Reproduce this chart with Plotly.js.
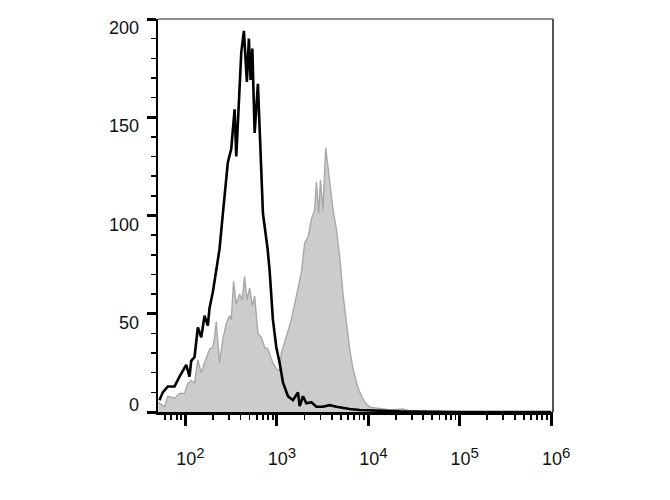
<!DOCTYPE html>
<html>
<head>
<meta charset="utf-8">
<script src="https://cdn.plot.ly/plotly-3.0.1.min.js"></script>
<style>html,body{margin:0;padding:0;background:#fff;}#chart{width:670px;height:500px;}</style>
</head>
<body>
<div id="chart"></div>
<script>
// Black (unstained / isotype) histogram
const blackX = [51.9, 56.4, 64.0, 75.8, 86.0, 93.4, 101.8, 110.6, 115.4, 125.5, 136.4, 148.6, 161.4, 175.5, 183.2, 199.1, 216.8, 235.6, 256.2, 290.4, 316.6, 344.4, 359.1, 374.1, 407.4, 435.2, 469.0, 493.3, 515.2, 538.3, 570.2, 619.4, 674.5, 703.1, 790.7, 831.8, 903.7, 984.5, 1071, 1164, 1320, 1497, 1698, 1774, 1927, 2099, 2382, 2702, 3170, 3777, 4475, 5243, 6252, 8054, 10350, 15130, 22080, 36560, 100200, 1000000];
const blackY = [6, 10, 13, 13, 18, 21, 24, 18, 26, 28, 43, 38, 49, 44, 53, 61, 71, 83, 101, 127, 134, 154, 130, 149, 183, 194, 168, 190, 169, 185, 142, 167, 127, 101, 83, 72, 47, 33, 25, 15, 8, 6, 10, 3, 8, 4.4, 5, 2.7, 2.7, 3.5, 2.7, 2, 1.5, 1, 0.8, 0.5, 0.3, 0.2, 0, 0];

// Gray (stained) filled histogram
const grayX = [50.5, 51.9, 58.9, 64.0, 75.8, 86.0, 97.5, 106.0, 115.4, 125.5, 136.4, 148.6, 161.4, 175.5, 183.2, 199.1, 207.8, 216.8, 235.6, 256.2, 279.0, 303.4, 316.6, 335.6, 359.1, 390.1, 417.8, 442.7, 469.0, 502.5, 538.3, 570.2, 619.4, 674.5, 733.5, 796.3, 903.7, 984.5, 1071, 1117, 1268, 1438, 1631, 1850, 2011, 2186, 2382, 2588, 2702, 2864, 2988, 3191, 3415, 3619, 3846, 4106, 4475, 4861, 5284, 5757, 6252, 6797, 7405, 8054, 9137, 10350, 11750, 14380, 17140, 23820, 28380, 40000, 1000000];
const grayY = [5, 4.4, 2.7, 8, 7, 9.5, 9.5, 14.6, 16, 14.6, 26.5, 20, 25, 30, 32, 33, 38, 46, 25, 37, 45, 49, 47, 66.5, 55, 60, 57, 69, 57, 63, 54, 59, 40, 38, 33, 32, 25, 22, 21, 30, 38, 47, 59, 71, 86, 89, 98, 103, 117, 101, 118, 103, 134.5, 125, 113, 103, 93, 79, 60, 45, 32, 22, 15, 10, 5, 2.5, 2, 1.5, 1, 1.5, 0.5, 0, 0];

// Axes
const xTickVals = [100, 1000, 10000, 100000, 1000000];
const xTickExps = ['2', '3', '4', '5', '6'];
const xMinorVals = [60, 70, 80, 90, 200, 300, 400, 500, 600, 700, 800, 900, 2000, 3000, 4000, 5000, 6000, 7000, 8000, 9000, 20000, 30000, 40000, 50000, 60000, 70000, 80000, 90000, 200000, 300000, 400000, 500000, 600000, 700000, 800000, 900000];
const yTickVals = [0, 50, 100, 150, 200];
const yTickLabels = ['0', '50', '100', '150', '200'];

const font = 'Arial, "Liberation Sans", Helvetica, sans-serif';
const xTickText = xTickExps.map(e => '10<sup><span style="font-size:15px">' + e + '</span></sup>');

const traces = [
  {
    x: grayX, y: grayY, type: 'scatter', mode: 'lines',
    fill: 'tozeroy', fillcolor: 'rgb(204,204,204)',
    line: {color: 'rgb(168,168,168)', width: 1.4},
    hoverinfo: 'skip', showlegend: false
  },
  {
    x: blackX, y: blackY, type: 'scatter', mode: 'lines',
    line: {color: '#000', width: 2.6},
    hoverinfo: 'skip', showlegend: false
  }
];

const annotations = yTickVals.map((v, i) => ({
  text: yTickLabels[i], xref: 'paper', x: 0, xanchor: 'right', xshift: -17,
  yref: 'y', y: v, yanchor: 'middle', yshift: v === 0 ? 7 : -9,
  showarrow: false, font: {family: font, size: 18, color: '#111'}
}));

const layout = {
  width: 670, height: 500,
  margin: {l: 158, r: 117, t: 19, b: 88},
  paper_bgcolor: '#fff', plot_bgcolor: '#fff',
  showlegend: false,
  xaxis: {
    type: 'log', range: [Math.log10(50), 6.02],
    tickmode: 'array', tickvals: xTickVals, ticktext: xTickText,
    ticks: 'outside', ticklen: 11, tickwidth: 3, tickcolor: '#000',
    showline: true, linecolor: '#000', linewidth: 2.5,
    showgrid: false, zeroline: false,
    ticklabelstandoff: 18, ticklabelshift: 5,
    tickfont: {family: font, size: 18, color: '#111'},
    minor: {tickmode: 'array', tickvals: xMinorVals, ticks: 'outside', ticklen: 5, tickwidth: 1.8, tickcolor: '#000', showgrid: false}
  },
  yaxis: {
    range: [0, 200],
    tickmode: 'array', tickvals: yTickVals, showticklabels: false,
    ticks: 'outside', ticklen: 9, tickwidth: 3, tickcolor: '#000',
    showline: true, linecolor: '#000', linewidth: 2,
    showgrid: false, zeroline: false,
    minor: {dtick: 10, ticks: 'outside', ticklen: 5, tickwidth: 1.5, tickcolor: '#000', showgrid: false}
  },
  shapes: [
    {type: 'line', xref: 'paper', yref: 'paper', x0: 0, x1: 1, y0: 1, y1: 1, line: {color: '#6a6a6a', width: 1.5}},
    {type: 'line', xref: 'paper', yref: 'paper', x0: 1, x1: 1, y0: 0, y1: 1, line: {color: '#555', width: 2}}
  ],
  annotations: annotations
};

Plotly.newPlot('chart', traces, layout, {staticPlot: true, displayModeBar: false});
</script>
</body>
</html>
